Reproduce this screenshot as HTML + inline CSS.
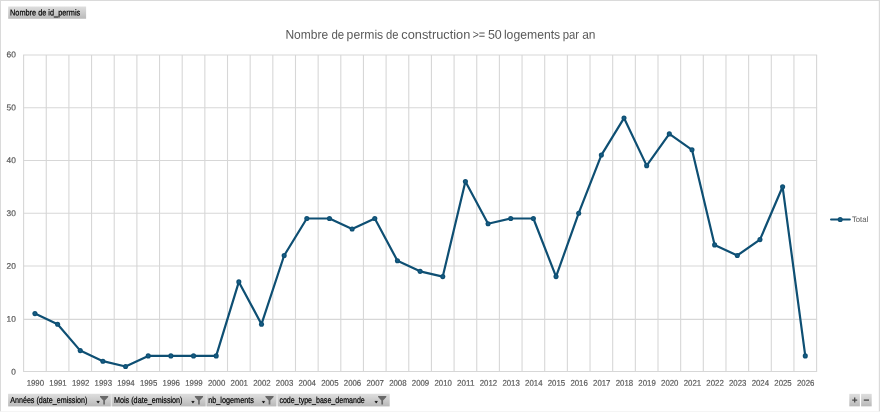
<!DOCTYPE html>
<html><head><meta charset="utf-8"><title>chart</title>
<style>
html,body{margin:0;padding:0;background:#fff;}
body{width:880px;height:412px;position:relative;overflow:hidden;font-family:"Liberation Sans",sans-serif;}
svg text{font-family:"Liberation Sans",sans-serif;}
</style></head><body>
<svg width="880" height="412" viewBox="0 0 880 412" style="position:absolute;left:0;top:0;will-change:transform">
<defs><linearGradient id="g" x1="0" y1="0" x2="0" y2="1"><stop offset="0" stop-color="#dedede"/><stop offset="1" stop-color="#b9b9b9"/></linearGradient></defs>
<rect x="0" y="0" width="880" height="1" fill="#dadada"/>
<rect x="0" y="0" width="1" height="412" fill="#dadada"/>
<rect x="878.8" y="0" width="1.2" height="412" fill="#dadada"/>
<rect x="0" y="411.2" width="880" height="0.8" fill="#f3f3f3"/>
<line x1="23.10" x2="817.10" y1="371.55" y2="371.55" stroke="#d7d7d7" stroke-width="1.1"/>
<line x1="23.10" x2="817.10" y1="319.35" y2="319.35" stroke="#d7d7d7" stroke-width="1.1"/>
<line x1="23.10" x2="817.10" y1="266.00" y2="266.00" stroke="#d7d7d7" stroke-width="1.1"/>
<line x1="23.10" x2="817.10" y1="213.30" y2="213.30" stroke="#d7d7d7" stroke-width="1.1"/>
<line x1="23.10" x2="817.10" y1="160.50" y2="160.50" stroke="#d7d7d7" stroke-width="1.1"/>
<line x1="23.10" x2="817.10" y1="107.80" y2="107.80" stroke="#d7d7d7" stroke-width="1.1"/>
<line x1="23.10" x2="817.10" y1="54.95" y2="54.95" stroke="#d7d7d7" stroke-width="1.1"/>
<line x1="23.60" x2="23.60" y1="54.95" y2="371.55" stroke="#d7d7d7" stroke-width="1.1"/>
<line x1="46.26" x2="46.26" y1="54.95" y2="371.55" stroke="#d7d7d7" stroke-width="1.1"/>
<line x1="68.91" x2="68.91" y1="54.95" y2="371.55" stroke="#d7d7d7" stroke-width="1.1"/>
<line x1="91.57" x2="91.57" y1="54.95" y2="371.55" stroke="#d7d7d7" stroke-width="1.1"/>
<line x1="114.23" x2="114.23" y1="54.95" y2="371.55" stroke="#d7d7d7" stroke-width="1.1"/>
<line x1="136.89" x2="136.89" y1="54.95" y2="371.55" stroke="#d7d7d7" stroke-width="1.1"/>
<line x1="159.54" x2="159.54" y1="54.95" y2="371.55" stroke="#d7d7d7" stroke-width="1.1"/>
<line x1="182.20" x2="182.20" y1="54.95" y2="371.55" stroke="#d7d7d7" stroke-width="1.1"/>
<line x1="204.86" x2="204.86" y1="54.95" y2="371.55" stroke="#d7d7d7" stroke-width="1.1"/>
<line x1="227.51" x2="227.51" y1="54.95" y2="371.55" stroke="#d7d7d7" stroke-width="1.1"/>
<line x1="250.17" x2="250.17" y1="54.95" y2="371.55" stroke="#d7d7d7" stroke-width="1.1"/>
<line x1="272.83" x2="272.83" y1="54.95" y2="371.55" stroke="#d7d7d7" stroke-width="1.1"/>
<line x1="295.49" x2="295.49" y1="54.95" y2="371.55" stroke="#d7d7d7" stroke-width="1.1"/>
<line x1="318.14" x2="318.14" y1="54.95" y2="371.55" stroke="#d7d7d7" stroke-width="1.1"/>
<line x1="340.80" x2="340.80" y1="54.95" y2="371.55" stroke="#d7d7d7" stroke-width="1.1"/>
<line x1="363.46" x2="363.46" y1="54.95" y2="371.55" stroke="#d7d7d7" stroke-width="1.1"/>
<line x1="386.11" x2="386.11" y1="54.95" y2="371.55" stroke="#d7d7d7" stroke-width="1.1"/>
<line x1="408.77" x2="408.77" y1="54.95" y2="371.55" stroke="#d7d7d7" stroke-width="1.1"/>
<line x1="431.43" x2="431.43" y1="54.95" y2="371.55" stroke="#d7d7d7" stroke-width="1.1"/>
<line x1="454.09" x2="454.09" y1="54.95" y2="371.55" stroke="#d7d7d7" stroke-width="1.1"/>
<line x1="476.74" x2="476.74" y1="54.95" y2="371.55" stroke="#d7d7d7" stroke-width="1.1"/>
<line x1="499.40" x2="499.40" y1="54.95" y2="371.55" stroke="#d7d7d7" stroke-width="1.1"/>
<line x1="522.06" x2="522.06" y1="54.95" y2="371.55" stroke="#d7d7d7" stroke-width="1.1"/>
<line x1="544.71" x2="544.71" y1="54.95" y2="371.55" stroke="#d7d7d7" stroke-width="1.1"/>
<line x1="567.37" x2="567.37" y1="54.95" y2="371.55" stroke="#d7d7d7" stroke-width="1.1"/>
<line x1="590.03" x2="590.03" y1="54.95" y2="371.55" stroke="#d7d7d7" stroke-width="1.1"/>
<line x1="612.69" x2="612.69" y1="54.95" y2="371.55" stroke="#d7d7d7" stroke-width="1.1"/>
<line x1="635.34" x2="635.34" y1="54.95" y2="371.55" stroke="#d7d7d7" stroke-width="1.1"/>
<line x1="658.00" x2="658.00" y1="54.95" y2="371.55" stroke="#d7d7d7" stroke-width="1.1"/>
<line x1="680.66" x2="680.66" y1="54.95" y2="371.55" stroke="#d7d7d7" stroke-width="1.1"/>
<line x1="703.31" x2="703.31" y1="54.95" y2="371.55" stroke="#d7d7d7" stroke-width="1.1"/>
<line x1="725.97" x2="725.97" y1="54.95" y2="371.55" stroke="#d7d7d7" stroke-width="1.1"/>
<line x1="748.63" x2="748.63" y1="54.95" y2="371.55" stroke="#d7d7d7" stroke-width="1.1"/>
<line x1="771.29" x2="771.29" y1="54.95" y2="371.55" stroke="#d7d7d7" stroke-width="1.1"/>
<line x1="793.94" x2="793.94" y1="54.95" y2="371.55" stroke="#d7d7d7" stroke-width="1.1"/>
<line x1="816.60" x2="816.60" y1="54.95" y2="371.55" stroke="#d7d7d7" stroke-width="1.1"/>
<text transform="translate(11.30,374.60) rotate(0.06)" font-size="8.2" textLength="4.6" lengthAdjust="spacingAndGlyphs" fill="#595959" stroke="#595959" stroke-width="0.2">0</text>
<text transform="translate(6.60,321.72) rotate(0.06)" font-size="8.2" textLength="9.3" lengthAdjust="spacingAndGlyphs" fill="#595959" stroke="#595959" stroke-width="0.2">10</text>
<text transform="translate(6.60,268.84) rotate(0.06)" font-size="8.2" textLength="9.3" lengthAdjust="spacingAndGlyphs" fill="#595959" stroke="#595959" stroke-width="0.2">20</text>
<text transform="translate(6.60,215.96) rotate(0.06)" font-size="8.2" textLength="9.3" lengthAdjust="spacingAndGlyphs" fill="#595959" stroke="#595959" stroke-width="0.2">30</text>
<text transform="translate(6.60,163.08) rotate(0.06)" font-size="8.2" textLength="9.3" lengthAdjust="spacingAndGlyphs" fill="#595959" stroke="#595959" stroke-width="0.2">40</text>
<text transform="translate(6.60,110.20) rotate(0.06)" font-size="8.2" textLength="9.3" lengthAdjust="spacingAndGlyphs" fill="#595959" stroke="#595959" stroke-width="0.2">50</text>
<text transform="translate(6.60,57.32) rotate(0.06)" font-size="8.2" textLength="9.3" lengthAdjust="spacingAndGlyphs" fill="#595959" stroke="#595959" stroke-width="0.2">60</text>
<text transform="translate(26.63,385.7) rotate(0.06)" font-size="8.3" textLength="17.4" lengthAdjust="spacingAndGlyphs" fill="#595959" stroke="#595959" stroke-width="0.2">1990</text>
<text transform="translate(49.29,385.7) rotate(0.06)" font-size="8.3" textLength="17.4" lengthAdjust="spacingAndGlyphs" fill="#595959" stroke="#595959" stroke-width="0.2">1991</text>
<text transform="translate(71.94,385.7) rotate(0.06)" font-size="8.3" textLength="17.4" lengthAdjust="spacingAndGlyphs" fill="#595959" stroke="#595959" stroke-width="0.2">1992</text>
<text transform="translate(94.60,385.7) rotate(0.06)" font-size="8.3" textLength="17.4" lengthAdjust="spacingAndGlyphs" fill="#595959" stroke="#595959" stroke-width="0.2">1993</text>
<text transform="translate(117.26,385.7) rotate(0.06)" font-size="8.3" textLength="17.4" lengthAdjust="spacingAndGlyphs" fill="#595959" stroke="#595959" stroke-width="0.2">1994</text>
<text transform="translate(139.91,385.7) rotate(0.06)" font-size="8.3" textLength="17.4" lengthAdjust="spacingAndGlyphs" fill="#595959" stroke="#595959" stroke-width="0.2">1995</text>
<text transform="translate(162.57,385.7) rotate(0.06)" font-size="8.3" textLength="17.4" lengthAdjust="spacingAndGlyphs" fill="#595959" stroke="#595959" stroke-width="0.2">1996</text>
<text transform="translate(185.23,385.7) rotate(0.06)" font-size="8.3" textLength="17.4" lengthAdjust="spacingAndGlyphs" fill="#595959" stroke="#595959" stroke-width="0.2">1999</text>
<text transform="translate(207.89,385.7) rotate(0.06)" font-size="8.3" textLength="17.4" lengthAdjust="spacingAndGlyphs" fill="#595959" stroke="#595959" stroke-width="0.2">2000</text>
<text transform="translate(230.54,385.7) rotate(0.06)" font-size="8.3" textLength="17.4" lengthAdjust="spacingAndGlyphs" fill="#595959" stroke="#595959" stroke-width="0.2">2001</text>
<text transform="translate(253.20,385.7) rotate(0.06)" font-size="8.3" textLength="17.4" lengthAdjust="spacingAndGlyphs" fill="#595959" stroke="#595959" stroke-width="0.2">2002</text>
<text transform="translate(275.86,385.7) rotate(0.06)" font-size="8.3" textLength="17.4" lengthAdjust="spacingAndGlyphs" fill="#595959" stroke="#595959" stroke-width="0.2">2003</text>
<text transform="translate(298.51,385.7) rotate(0.06)" font-size="8.3" textLength="17.4" lengthAdjust="spacingAndGlyphs" fill="#595959" stroke="#595959" stroke-width="0.2">2004</text>
<text transform="translate(321.17,385.7) rotate(0.06)" font-size="8.3" textLength="17.4" lengthAdjust="spacingAndGlyphs" fill="#595959" stroke="#595959" stroke-width="0.2">2005</text>
<text transform="translate(343.83,385.7) rotate(0.06)" font-size="8.3" textLength="17.4" lengthAdjust="spacingAndGlyphs" fill="#595959" stroke="#595959" stroke-width="0.2">2006</text>
<text transform="translate(366.49,385.7) rotate(0.06)" font-size="8.3" textLength="17.4" lengthAdjust="spacingAndGlyphs" fill="#595959" stroke="#595959" stroke-width="0.2">2007</text>
<text transform="translate(389.14,385.7) rotate(0.06)" font-size="8.3" textLength="17.4" lengthAdjust="spacingAndGlyphs" fill="#595959" stroke="#595959" stroke-width="0.2">2008</text>
<text transform="translate(411.80,385.7) rotate(0.06)" font-size="8.3" textLength="17.4" lengthAdjust="spacingAndGlyphs" fill="#595959" stroke="#595959" stroke-width="0.2">2009</text>
<text transform="translate(434.46,385.7) rotate(0.06)" font-size="8.3" textLength="17.4" lengthAdjust="spacingAndGlyphs" fill="#595959" stroke="#595959" stroke-width="0.2">2010</text>
<text transform="translate(457.11,385.7) rotate(0.06)" font-size="8.3" textLength="17.4" lengthAdjust="spacingAndGlyphs" fill="#595959" stroke="#595959" stroke-width="0.2">2011</text>
<text transform="translate(479.77,385.7) rotate(0.06)" font-size="8.3" textLength="17.4" lengthAdjust="spacingAndGlyphs" fill="#595959" stroke="#595959" stroke-width="0.2">2012</text>
<text transform="translate(502.43,385.7) rotate(0.06)" font-size="8.3" textLength="17.4" lengthAdjust="spacingAndGlyphs" fill="#595959" stroke="#595959" stroke-width="0.2">2013</text>
<text transform="translate(525.09,385.7) rotate(0.06)" font-size="8.3" textLength="17.4" lengthAdjust="spacingAndGlyphs" fill="#595959" stroke="#595959" stroke-width="0.2">2014</text>
<text transform="translate(547.74,385.7) rotate(0.06)" font-size="8.3" textLength="17.4" lengthAdjust="spacingAndGlyphs" fill="#595959" stroke="#595959" stroke-width="0.2">2015</text>
<text transform="translate(570.40,385.7) rotate(0.06)" font-size="8.3" textLength="17.4" lengthAdjust="spacingAndGlyphs" fill="#595959" stroke="#595959" stroke-width="0.2">2016</text>
<text transform="translate(593.06,385.7) rotate(0.06)" font-size="8.3" textLength="17.4" lengthAdjust="spacingAndGlyphs" fill="#595959" stroke="#595959" stroke-width="0.2">2017</text>
<text transform="translate(615.71,385.7) rotate(0.06)" font-size="8.3" textLength="17.4" lengthAdjust="spacingAndGlyphs" fill="#595959" stroke="#595959" stroke-width="0.2">2018</text>
<text transform="translate(638.37,385.7) rotate(0.06)" font-size="8.3" textLength="17.4" lengthAdjust="spacingAndGlyphs" fill="#595959" stroke="#595959" stroke-width="0.2">2019</text>
<text transform="translate(661.03,385.7) rotate(0.06)" font-size="8.3" textLength="17.4" lengthAdjust="spacingAndGlyphs" fill="#595959" stroke="#595959" stroke-width="0.2">2020</text>
<text transform="translate(683.69,385.7) rotate(0.06)" font-size="8.3" textLength="17.4" lengthAdjust="spacingAndGlyphs" fill="#595959" stroke="#595959" stroke-width="0.2">2021</text>
<text transform="translate(706.34,385.7) rotate(0.06)" font-size="8.3" textLength="17.4" lengthAdjust="spacingAndGlyphs" fill="#595959" stroke="#595959" stroke-width="0.2">2022</text>
<text transform="translate(729.00,385.7) rotate(0.06)" font-size="8.3" textLength="17.4" lengthAdjust="spacingAndGlyphs" fill="#595959" stroke="#595959" stroke-width="0.2">2023</text>
<text transform="translate(751.66,385.7) rotate(0.06)" font-size="8.3" textLength="17.4" lengthAdjust="spacingAndGlyphs" fill="#595959" stroke="#595959" stroke-width="0.2">2024</text>
<text transform="translate(774.31,385.7) rotate(0.06)" font-size="8.3" textLength="17.4" lengthAdjust="spacingAndGlyphs" fill="#595959" stroke="#595959" stroke-width="0.2">2025</text>
<text transform="translate(796.97,385.7) rotate(0.06)" font-size="8.3" textLength="17.4" lengthAdjust="spacingAndGlyphs" fill="#595959" stroke="#595959" stroke-width="0.2">2026</text>
<polyline points="34.93,313.62 57.59,324.19 80.24,350.61 102.90,361.18 125.56,366.46 148.21,355.89 170.87,355.89 193.53,355.89 216.19,355.89 238.84,281.90 261.50,324.19 284.16,255.48 306.81,218.48 329.47,218.48 352.13,229.06 374.79,218.48 397.44,260.76 420.10,271.33 442.76,276.62 465.41,181.49 488.07,223.77 510.73,218.48 533.39,218.48 556.04,276.62 578.70,213.20 601.36,155.06 624.01,118.07 646.67,165.63 669.33,133.92 691.99,149.78 714.64,244.91 737.30,255.48 759.96,239.62 782.61,186.78 805.27,355.89" fill="none" stroke="#0e4f73" stroke-width="2.2" stroke-linejoin="round" stroke-linecap="round"/>
<circle cx="34.93" cy="313.62" r="2.55" fill="#0e4f73"/><circle cx="34.93" cy="313.62" r="1.3" fill="#165d85"/>
<circle cx="57.59" cy="324.19" r="2.55" fill="#0e4f73"/><circle cx="57.59" cy="324.19" r="1.3" fill="#165d85"/>
<circle cx="80.24" cy="350.61" r="2.55" fill="#0e4f73"/><circle cx="80.24" cy="350.61" r="1.3" fill="#165d85"/>
<circle cx="102.90" cy="361.18" r="2.55" fill="#0e4f73"/><circle cx="102.90" cy="361.18" r="1.3" fill="#165d85"/>
<circle cx="125.56" cy="366.46" r="2.55" fill="#0e4f73"/><circle cx="125.56" cy="366.46" r="1.3" fill="#165d85"/>
<circle cx="148.21" cy="355.89" r="2.55" fill="#0e4f73"/><circle cx="148.21" cy="355.89" r="1.3" fill="#165d85"/>
<circle cx="170.87" cy="355.89" r="2.55" fill="#0e4f73"/><circle cx="170.87" cy="355.89" r="1.3" fill="#165d85"/>
<circle cx="193.53" cy="355.89" r="2.55" fill="#0e4f73"/><circle cx="193.53" cy="355.89" r="1.3" fill="#165d85"/>
<circle cx="216.19" cy="355.89" r="2.55" fill="#0e4f73"/><circle cx="216.19" cy="355.89" r="1.3" fill="#165d85"/>
<circle cx="238.84" cy="281.90" r="2.55" fill="#0e4f73"/><circle cx="238.84" cy="281.90" r="1.3" fill="#165d85"/>
<circle cx="261.50" cy="324.19" r="2.55" fill="#0e4f73"/><circle cx="261.50" cy="324.19" r="1.3" fill="#165d85"/>
<circle cx="284.16" cy="255.48" r="2.55" fill="#0e4f73"/><circle cx="284.16" cy="255.48" r="1.3" fill="#165d85"/>
<circle cx="306.81" cy="218.48" r="2.55" fill="#0e4f73"/><circle cx="306.81" cy="218.48" r="1.3" fill="#165d85"/>
<circle cx="329.47" cy="218.48" r="2.55" fill="#0e4f73"/><circle cx="329.47" cy="218.48" r="1.3" fill="#165d85"/>
<circle cx="352.13" cy="229.06" r="2.55" fill="#0e4f73"/><circle cx="352.13" cy="229.06" r="1.3" fill="#165d85"/>
<circle cx="374.79" cy="218.48" r="2.55" fill="#0e4f73"/><circle cx="374.79" cy="218.48" r="1.3" fill="#165d85"/>
<circle cx="397.44" cy="260.76" r="2.55" fill="#0e4f73"/><circle cx="397.44" cy="260.76" r="1.3" fill="#165d85"/>
<circle cx="420.10" cy="271.33" r="2.55" fill="#0e4f73"/><circle cx="420.10" cy="271.33" r="1.3" fill="#165d85"/>
<circle cx="442.76" cy="276.62" r="2.55" fill="#0e4f73"/><circle cx="442.76" cy="276.62" r="1.3" fill="#165d85"/>
<circle cx="465.41" cy="181.49" r="2.55" fill="#0e4f73"/><circle cx="465.41" cy="181.49" r="1.3" fill="#165d85"/>
<circle cx="488.07" cy="223.77" r="2.55" fill="#0e4f73"/><circle cx="488.07" cy="223.77" r="1.3" fill="#165d85"/>
<circle cx="510.73" cy="218.48" r="2.55" fill="#0e4f73"/><circle cx="510.73" cy="218.48" r="1.3" fill="#165d85"/>
<circle cx="533.39" cy="218.48" r="2.55" fill="#0e4f73"/><circle cx="533.39" cy="218.48" r="1.3" fill="#165d85"/>
<circle cx="556.04" cy="276.62" r="2.55" fill="#0e4f73"/><circle cx="556.04" cy="276.62" r="1.3" fill="#165d85"/>
<circle cx="578.70" cy="213.20" r="2.55" fill="#0e4f73"/><circle cx="578.70" cy="213.20" r="1.3" fill="#165d85"/>
<circle cx="601.36" cy="155.06" r="2.55" fill="#0e4f73"/><circle cx="601.36" cy="155.06" r="1.3" fill="#165d85"/>
<circle cx="624.01" cy="118.07" r="2.55" fill="#0e4f73"/><circle cx="624.01" cy="118.07" r="1.3" fill="#165d85"/>
<circle cx="646.67" cy="165.63" r="2.55" fill="#0e4f73"/><circle cx="646.67" cy="165.63" r="1.3" fill="#165d85"/>
<circle cx="669.33" cy="133.92" r="2.55" fill="#0e4f73"/><circle cx="669.33" cy="133.92" r="1.3" fill="#165d85"/>
<circle cx="691.99" cy="149.78" r="2.55" fill="#0e4f73"/><circle cx="691.99" cy="149.78" r="1.3" fill="#165d85"/>
<circle cx="714.64" cy="244.91" r="2.55" fill="#0e4f73"/><circle cx="714.64" cy="244.91" r="1.3" fill="#165d85"/>
<circle cx="737.30" cy="255.48" r="2.55" fill="#0e4f73"/><circle cx="737.30" cy="255.48" r="1.3" fill="#165d85"/>
<circle cx="759.96" cy="239.62" r="2.55" fill="#0e4f73"/><circle cx="759.96" cy="239.62" r="1.3" fill="#165d85"/>
<circle cx="782.61" cy="186.78" r="2.55" fill="#0e4f73"/><circle cx="782.61" cy="186.78" r="1.3" fill="#165d85"/>
<circle cx="805.27" cy="355.89" r="2.55" fill="#0e4f73"/><circle cx="805.27" cy="355.89" r="1.3" fill="#165d85"/>
<line x1="831.1" x2="849.8" y1="219.5" y2="219.5" stroke="#0e4f73" stroke-width="2.2" stroke-linecap="round"/>
<circle cx="840.2" cy="219.5" r="2.55" fill="#0e4f73"/><circle cx="840.2" cy="219.5" r="1.3" fill="#165d85"/>
<text transform="translate(852,221.9) rotate(0.06)" font-size="7.9" textLength="16.2" lengthAdjust="spacingAndGlyphs" fill="#595959">Total</text>
<text transform="translate(285.40,38.8) rotate(0.06)" font-size="12.6" textLength="42.70" lengthAdjust="spacingAndGlyphs" fill="#595959">Nombre</text>
<text transform="translate(331.40,38.8) rotate(0.06)" font-size="12.6" textLength="12.80" lengthAdjust="spacingAndGlyphs" fill="#595959">de</text>
<text transform="translate(346.60,38.8) rotate(0.06)" font-size="12.6" textLength="36.60" lengthAdjust="spacingAndGlyphs" fill="#595959">permis</text>
<text transform="translate(386.10,38.8) rotate(0.06)" font-size="12.6" textLength="12.50" lengthAdjust="spacingAndGlyphs" fill="#595959">de</text>
<text transform="translate(401.30,38.8) rotate(0.06)" font-size="12.6" textLength="69.00" lengthAdjust="spacingAndGlyphs" fill="#595959">construction</text>
<text transform="translate(472.40,38.8) rotate(0.06)" font-size="12.6" textLength="12.80" lengthAdjust="spacingAndGlyphs" fill="#595959">&gt;=</text>
<text transform="translate(487.90,38.8) rotate(0.06)" font-size="12.6" textLength="13.90" lengthAdjust="spacingAndGlyphs" fill="#595959">50</text>
<text transform="translate(503.90,38.8) rotate(0.06)" font-size="12.6" textLength="56.30" lengthAdjust="spacingAndGlyphs" fill="#595959">logements</text>
<text transform="translate(562.70,38.8) rotate(0.06)" font-size="12.6" textLength="16.40" lengthAdjust="spacingAndGlyphs" fill="#595959">par</text>
<text transform="translate(582.20,38.8) rotate(0.06)" font-size="12.6" textLength="13.30" lengthAdjust="spacingAndGlyphs" fill="#595959">an</text>
<rect x="8.2" y="6.5" width="77.90" height="12.25" fill="url(#g)"/><text transform="translate(10,15.55) rotate(0.06)" font-size="8.7" textLength="70.2" lengthAdjust="spacingAndGlyphs" fill="#000" stroke="#000" stroke-width="0.2">Nombre de id_permis</text>
<rect x="8.2" y="393.85" width="381.4" height="12.50" fill="#e4e4e4"/>
<rect x="8.2" y="393.85" width="102.50" height="12.50" fill="url(#g)"/><text transform="translate(10.2,402.90) rotate(0.06)" font-size="8.7" textLength="77.1" lengthAdjust="spacingAndGlyphs" fill="#000" stroke="#000" stroke-width="0.2">Années (date_emission)</text><path d="M96.70 401.25h2.8l-1.4 1.9z" fill="#000" stroke="#000" stroke-width="0.3" stroke-linejoin="round"/><path transform="translate(100.00,396.10)" d="M0 0H8.2V0.9L4.95 4.3V8.5H3.25V4.3L0 0.9Z" fill="#686868"/>
<rect x="112.2" y="393.85" width="93.35" height="12.50" fill="url(#g)"/><text transform="translate(114.0,402.90) rotate(0.06)" font-size="8.7" textLength="68.5" lengthAdjust="spacingAndGlyphs" fill="#000" stroke="#000" stroke-width="0.2">Mois (date_emission)</text><path d="M191.55 401.25h2.8l-1.4 1.9z" fill="#000" stroke="#000" stroke-width="0.3" stroke-linejoin="round"/><path transform="translate(194.85,396.10)" d="M0 0H8.2V0.9L4.95 4.3V8.5H3.25V4.3L0 0.9Z" fill="#686868"/>
<rect x="206.7" y="393.85" width="69.40" height="12.50" fill="url(#g)"/><text transform="translate(208.2,402.90) rotate(0.06)" font-size="8.7" textLength="45.7" lengthAdjust="spacingAndGlyphs" fill="#000" stroke="#000" stroke-width="0.2">nb_logements</text><path d="M262.10 401.25h2.8l-1.4 1.9z" fill="#000" stroke="#000" stroke-width="0.3" stroke-linejoin="round"/><path transform="translate(265.40,396.10)" d="M0 0H8.2V0.9L4.95 4.3V8.5H3.25V4.3L0 0.9Z" fill="#686868"/>
<rect x="278.0" y="393.85" width="111.60" height="12.50" fill="url(#g)"/><text transform="translate(279.4,402.90) rotate(0.06)" font-size="8.7" textLength="85.4" lengthAdjust="spacingAndGlyphs" fill="#000" stroke="#000" stroke-width="0.2">code_type_base_demande</text><path d="M374.80 401.25h2.8l-1.4 1.9z" fill="#000" stroke="#000" stroke-width="0.3" stroke-linejoin="round"/><path transform="translate(378.10,396.10)" d="M0 0H8.2V0.9L4.95 4.3V8.5H3.25V4.3L0 0.9Z" fill="#686868"/>
<rect x="849.3" y="393.85" width="10.6" height="12.5" fill="url(#g)"/>
<rect x="861.1" y="393.85" width="10.6" height="12.5" fill="url(#g)"/>
<path d="M852.2 400.1H857.2M854.7 397.6V402.6" stroke="#4a4a4a" stroke-width="1.3" fill="none"/>
<path d="M863.8 400.1H869" stroke="#4a4a4a" stroke-width="1.3" fill="none"/>
</svg>
</body></html>
